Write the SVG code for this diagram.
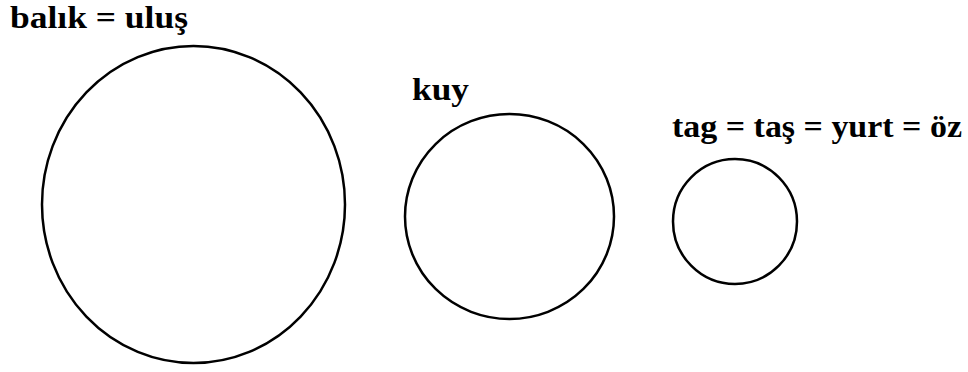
<svg xmlns="http://www.w3.org/2000/svg" width="968" height="372" viewBox="0 0 968 372">
<style>
.c{fill:none;stroke:#000;stroke-width:2.5}
.t{font-family:"Liberation Serif","DejaVu Serif",serif;font-weight:bold;font-size:32px;fill:#000}
</style>
<rect width="968" height="372" fill="#fff"/>
<g id="n1"><ellipse class="c" cx="193.5" cy="204.5" rx="151.5" ry="158.5"/><text class="t" x="10" y="28" textLength="178" lengthAdjust="spacingAndGlyphs">balık = uluş</text></g>
<g id="n2"><ellipse class="c" cx="509.5" cy="216.5" rx="104.5" ry="102.5"/><text class="t" x="412" y="100" textLength="57" lengthAdjust="spacingAndGlyphs">kuy</text></g>
<g id="n3"><ellipse class="c" cx="735" cy="221.5" rx="62" ry="62.5"/><text class="t" x="672" y="137" textLength="290" lengthAdjust="spacingAndGlyphs">tag = taş = yurt = öz</text></g>
<g id="connectors"/>
</svg>
